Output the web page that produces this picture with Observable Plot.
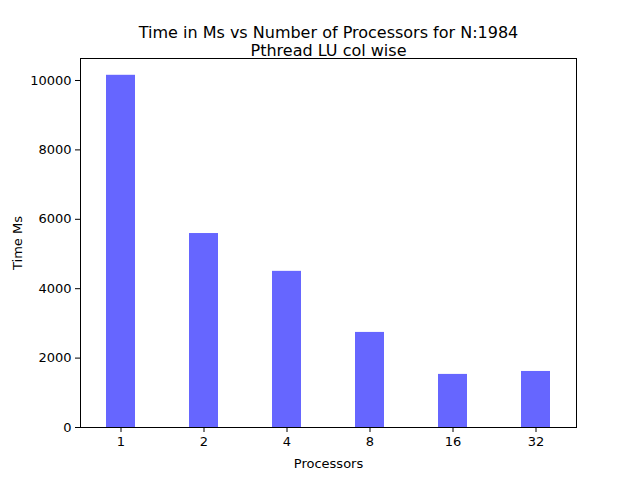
<!DOCTYPE html>
<html>
<head>
<script src="https://cdn.jsdelivr.net/npm/d3@7"></script>
<script src="https://cdn.jsdelivr.net/npm/@observablehq/plot@0.6"></script>
<style>
  body { margin: 0; background: #fff; }
</style>
</head>
<body>
<div id="chart"></div>
<script>
// data
const PROCESSORS = ["1", "2", "4", "8", "16", "32"];
const TIME_MS    = [10150, 5590, 4500, 2740, 1530, 1615];
const TITLE      = ["Time in Ms vs Number of Processors for N:1984", "Pthread LU col wise"];

const rows = PROCESSORS.map((p, i) => ({ p, t: TIME_MS[i] }));

const chart = Plot.plot({
  width: 640,
  height: 480,
  marginLeft: 80,
  marginRight: 64,
  marginTop: 58,
  marginBottom: 53,
  style: { fontFamily: "DejaVu Sans", fontSize: "13px", color: "#000", background: "#fff" },
  x: {
    type: "band", domain: PROCESSORS, paddingInner: 0.655, paddingOuter: 0.28,
    label: "Processors", labelAnchor: "center", labelArrow: "none", labelOffset: 40, tickSize: 5, tickPadding: 4
  },
  y: {
    domain: [0, 10634], ticks: [0, 2000, 4000, 6000, 8000, 10000], tickFormat: d => String(d),
    label: "Time Ms", labelAnchor: "center", labelArrow: "none", labelOffset: 68, tickSize: 5, tickPadding: 4
  },
  marks: [
    Plot.barY(rows, { x: "p", y: "t", fill: "#6666ff" }),
    Plot.frame({ stroke: "#000" }),
    Plot.text([TITLE[0]], { frameAnchor: "top", dy: -32, fontSize: 16 }),
    Plot.text([TITLE[1]], { frameAnchor: "top", dy: -14, fontSize: 16 })
  ]
});

document.getElementById("chart").appendChild(chart);
</script>
</body>
</html>
